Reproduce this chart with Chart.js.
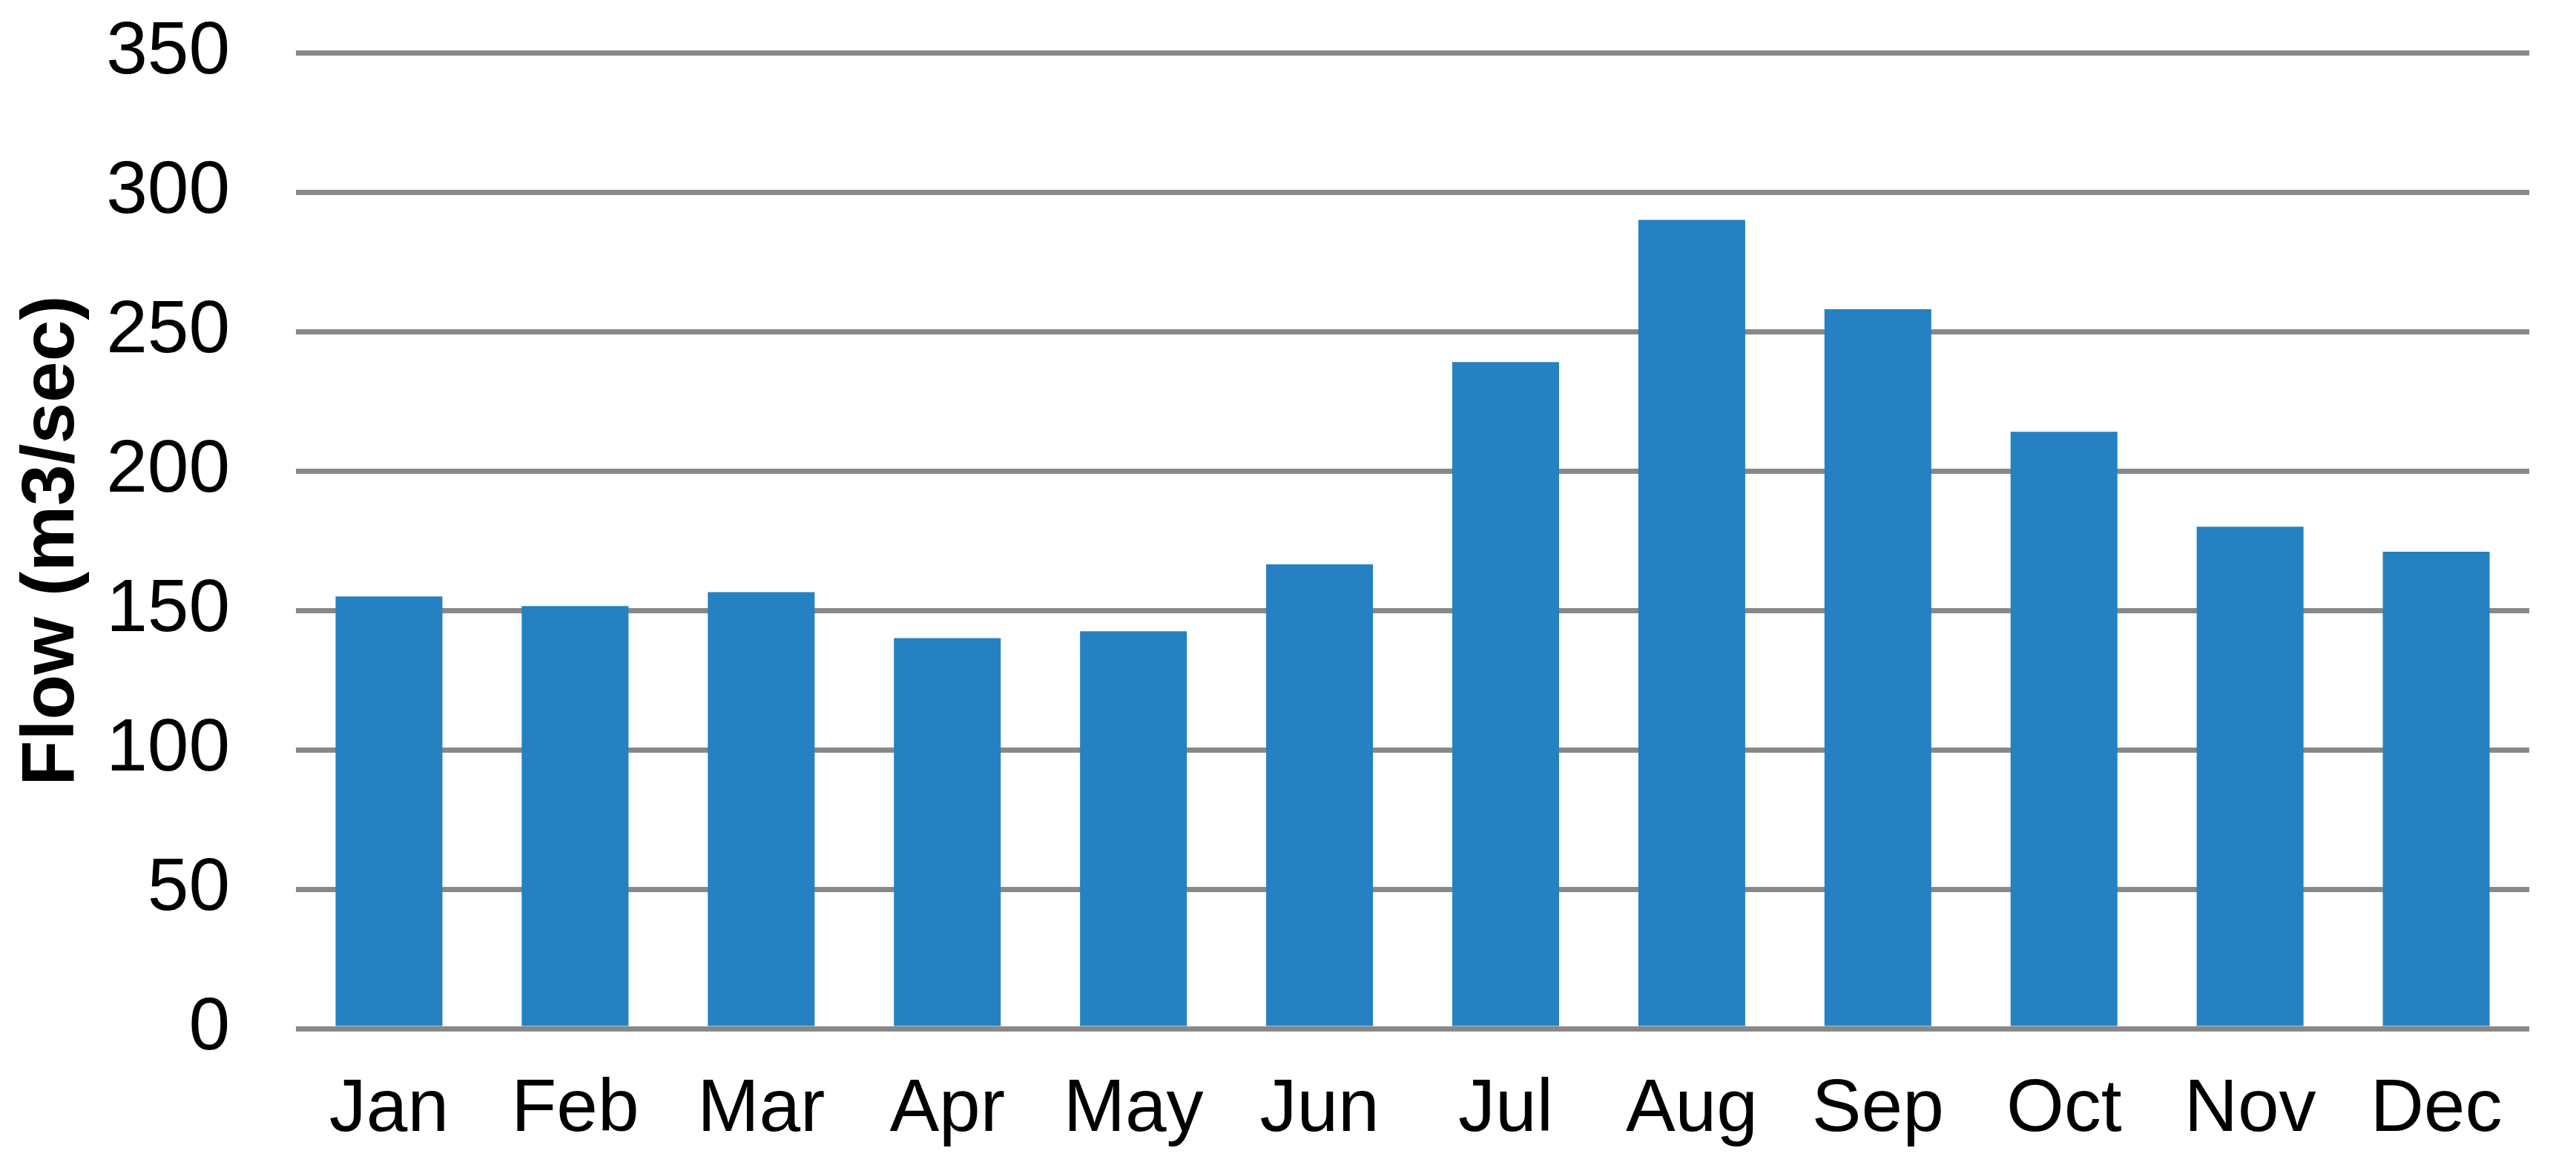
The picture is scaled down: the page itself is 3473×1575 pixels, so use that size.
<!DOCTYPE html>
<html>
<head>
<meta charset="utf-8">
<script src="https://cdn.jsdelivr.net/npm/chart.js"></script>
<style>
  html, body { margin: 0; padding: 0; background: #fff; }
  #wrap { width: 3473px; height: 1575px; }
</style>
</head>
<body>
<div id="wrap"><canvas id="flowChart" width="3473" height="1575"></canvas></div>
<script>
// monthly flow
const months = ['Jan', 'Feb', 'Mar', 'Apr', 'May', 'Jun', 'Jul', 'Aug', 'Sep', 'Oct', 'Nov', 'Dec'];
const flowValues = [155, 151.5, 156.5, 140, 142.5, 166.5, 239, 290, 258, 214, 180, 171];
const yTicks = [0, 50, 100, 150, 200, 250, 300, 350];
const yTitle = 'Flow (m3/sec)';

const barBlue = '#2581c1';
const gridGrey = '#888888';
const fontFamily = '"Liberation Sans", Arial, sans-serif';

new Chart(document.getElementById('flowChart'), {
  type: 'bar',
  data: {
    labels: months,
    datasets: [{
      data: flowValues,
      backgroundColor: barBlue,
      borderWidth: 0,
      barPercentage: 0.574,
      categoryPercentage: 1.0
    }]
  },
  options: {
    responsive: false,
    animation: false,
    devicePixelRatio: 1,
    plugins: {
      legend: { display: false },
      tooltip: { enabled: false }
    },
    layout: {
      padding: { left: 0, right: 63, top: 0, bottom: 0 }
    },
    scales: {
      x: {
        grid: { display: false, drawTicks: false },
        border: { display: false },
        ticks: {
          color: '#000',
          padding: 50,
          maxRotation: 0,
          autoSkip: false,
          font: { family: fontFamily, size: 100 }
        },
        afterFit: function (scale) { scale.height = 188; }
      },
      y: {
        min: 0,
        max: 350,
        afterBuildTicks: function (scale) {
          scale.ticks = yTicks.map(v => ({ value: v }));
        },
        // invisible tick marks push the labels left without adding top padding
        grid: { color: gridGrey, lineWidth: 7, drawTicks: true, tickLength: 78, tickColor: 'rgba(0,0,0,0)' },
        border: { display: false },
        ticks: {
          color: '#000',
          padding: 11,
          font: { family: fontFamily, size: 100, lineHeight: 1.2 }
        },
        title: {
          display: true,
          text: yTitle,
          color: '#000',
          padding: { top: 11, bottom: 0 },
          font: { family: fontFamily, size: 100, weight: 'bold', lineHeight: 1.2 }
        },
        afterFit: function (scale) { scale.width = 399; }
      }
    }
  }
});
</script>
</body>
</html>
